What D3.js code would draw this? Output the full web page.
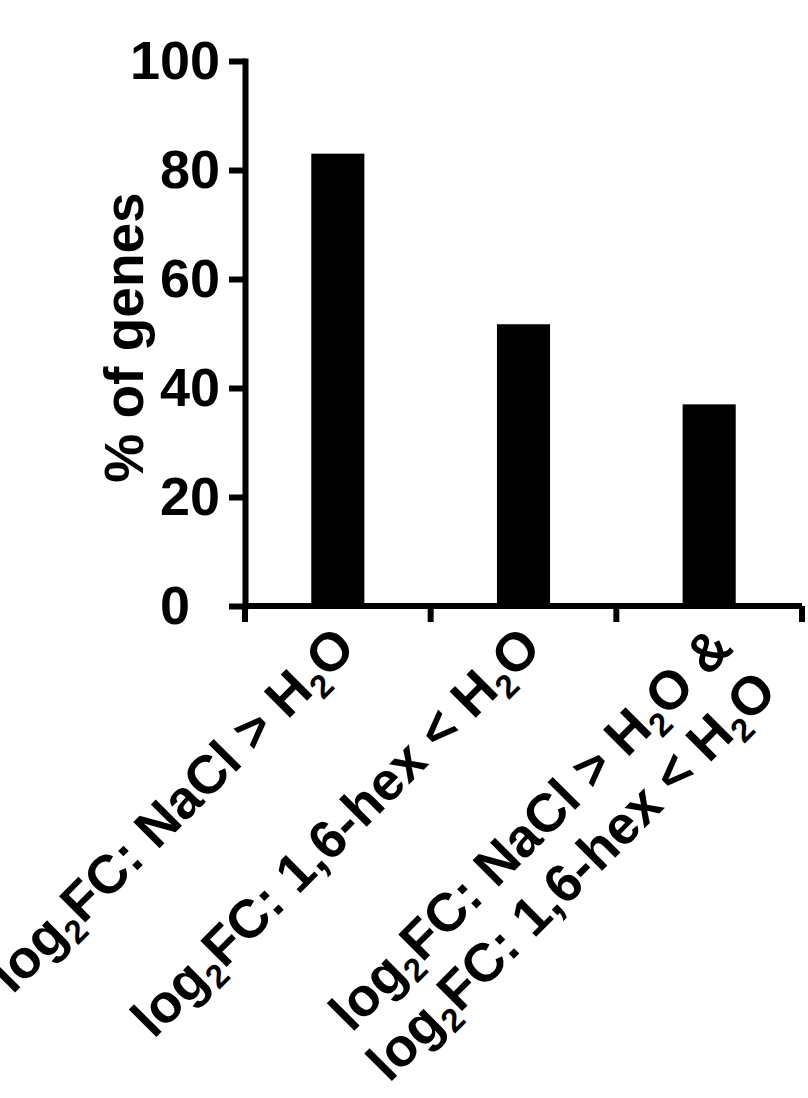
<!DOCTYPE html>
<html>
<head>
<meta charset="utf-8">
<script src="https://cdn.jsdelivr.net/npm/d3@7"></script>
<style>
  body { margin: 0; background: #fff; }
  svg text { font-family: "Liberation Sans", Arial, sans-serif; font-weight: bold; fill: #000; }
</style>
</head>
<body>
<div id="chart"></div>
<script>
// values
const categories = ["nacl", "hex", "both"];
// "_2" marks a subscript 2
const categoryLabels = [
  ["log_2FC: NaCl > H_2O"],
  ["log_2FC: 1,6-hex < H_2O"],
  ["log_2FC: NaCl > H_2O &", "log_2FC: 1,6-hex < H_2O"]
];
const percentGenes = [83.0, 51.7, 37.0];
const yTicks = [0, 20, 40, 60, 80, 100];
const yLabel = "% of genes";

const width = 808, height = 1098;
const margin = {top: 61, right: 8, bottom: 492, left: 245};
const lineW = 6;

let svg = d3.select("#chart")
  .append("svg")
  .attr("width", width)
  .attr("height", height);

let x = d3.scaleBand()
  .domain(categories)
  .range([margin.left, width - margin.right + 2])
  .paddingInner(0.714)
  .paddingOuter(0.357);

let y = d3.scaleLinear()
  .domain([0, 100])
  .range([height - margin.bottom, margin.top]);

// bars
svg.append("g")
  .selectAll("rect")
  .data(percentGenes)
  .enter().append("rect")
    .attr("x", (d, i) => x(categories[i]))
    .attr("y", d => y(d))
    .attr("width", x.bandwidth())
    .attr("height", d => y(0) - y(d))
    .attr("fill", "#000");

// y axis
let yAxis = svg.append("g")
  .attr("transform", `translate(${margin.left},0)`)
  .call(d3.axisLeft(y)
    .tickValues(yTicks)
    .tickSize(16)
    .tickSizeOuter(0)
    .tickPadding(9)
    .tickFormat(d => d === 0 ? "0\u2007" : d));
yAxis.select(".domain")
  .attr("stroke-width", lineW)
  .attr("stroke-linecap", "square");
yAxis.selectAll(".tick line").attr("stroke-width", lineW);
yAxis.selectAll(".tick text")
  .attr("font-size", 54)
  .attr("font-family", null);

// x axis: GraphPad style, ticks between groups
let xTickPos = [x.range()[0]].concat(categories.map(c => x(c) + x.bandwidth() + x.step() * x.paddingInner() / 2));
let xAxis = svg.append("g");
xAxis.append("line")
  .attr("x1", x.range()[0])
  .attr("x2", x.range()[1])
  .attr("y1", y(0))
  .attr("y2", y(0))
  .attr("stroke", "#000")
  .attr("stroke-width", lineW);
xAxis.selectAll(".xtick")
  .data(xTickPos)
  .enter().append("line")
    .attr("class", "xtick")
    .attr("x1", d => d)
    .attr("x2", d => d)
    .attr("y1", y(0))
    .attr("y2", y(0) + 16)
    .attr("stroke", "#000")
    .attr("stroke-width", lineW);

// rotated category labels
let labelG = svg.append("g")
  .selectAll("g")
  .data(categoryLabels)
  .enter().append("g")
    .attr("transform", (d, i) => `translate(${x(categories[i]) + x.bandwidth() / 2 + 20 + (d.length - 1) * 6},${y(0) + 44}) rotate(-45)`);

labelG.each(function(lines) {
  let g = d3.select(this);
  lines.forEach((line, k) => {
    let t = g.append("text")
      .attr("text-anchor", "end")
      .attr("font-size", 54)
      .attr("y", k * 62);
    let parts = line.split(/_(2)/);
    parts.forEach((p, j) => {
      if (j % 2 === 1) {
        t.append("tspan").attr("font-size", 33).attr("dy", 11).text(p);
      } else if (p.length) {
        t.append("tspan").attr("dy", j > 0 ? -11 : 0).text(p);
      }
    });
  });
});

// y title
svg.append("text")
  .attr("transform", `translate(143,${(y(0) + y(100)) / 2 + 4}) rotate(-90)`)
  .attr("text-anchor", "middle")
  .attr("font-size", 55)
  .text(yLabel);
</script>
</body>
</html>
